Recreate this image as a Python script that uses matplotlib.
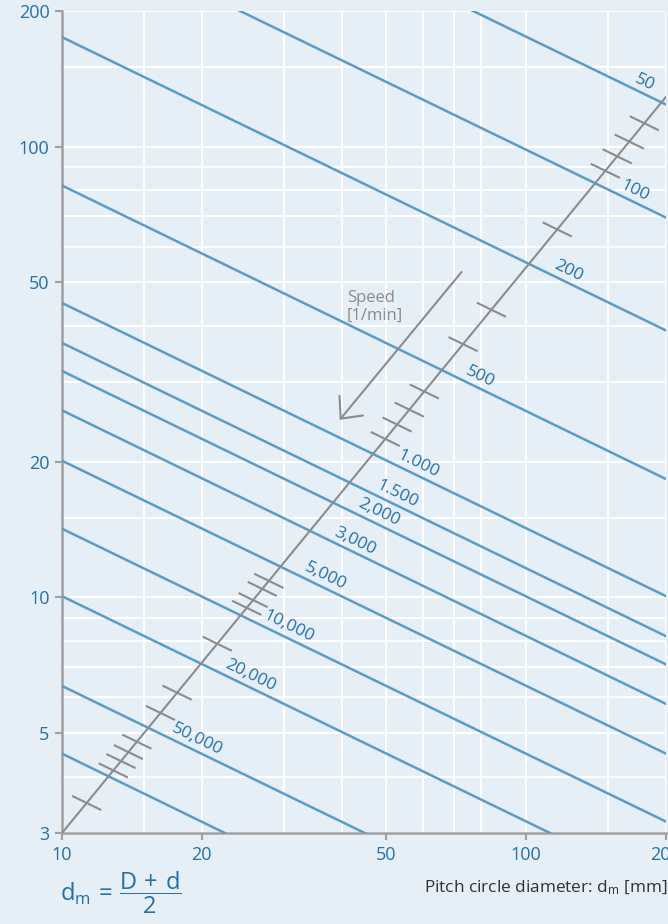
import numpy as np
import matplotlib.pyplot as plt
from matplotlib.patches import FancyArrowPatch
from matplotlib.ticker import FixedLocator, NullFormatter

plt.rcParams['font.family'] = ['Open Sans', 'DejaVu Sans']
plt.rcParams['mathtext.fontset'] = 'custom'
plt.rcParams['mathtext.rm'] = 'Open Sans'
plt.rcParams['mathtext.it'] = 'Open Sans:italic'
plt.rcParams['mathtext.bf'] = 'Open Sans:bold'

# speed lines, viscosity read at dm = 10 mm and at dm = 200 mm
speed_labels = ['50', '100', '200', '500', '1.000', '1.500', '2,000', '3,000',
                '5,000', '10,000', '20,000', '50,000', '']
y_at_10 = [554, 311, 175, 82, 45, 36.7, 31.8, 26.0, 20.1, 14.2, 10.06, 6.36, 4.5]
y_at_200 = [124, 69.6, 39.1, 18.3, 10.06, 8.2, 7.1, 5.8, 4.5, 3.18, 2.25, 1.42, 1.0]
label_x = [180, 171, 123, 79.6, 58.5, 52.7, 48.0, 42.8, 36.9, 30.7, 25.4, 19.5, None]

# gray speed scale and its intermediate ticks (dm positions)
scale_x = [10, 200]
scale_y = [3, 129]
scale_ticks = [179.6, 166.7, 157, 148, 116.6, 84.1, 73.1, 60.3, 56.0, 52.7, 49.7,
               27.9, 27.0, 25.8, 25.0, 21.6, 17.7, 16.3, 14.5, 13.9, 13.4, 12.9, 11.3]

x_ticks = [10, 20, 50, 100, 200]
y_ticks = [3, 5, 10, 20, 50, 100, 200]
x_grid = [15, 30, 40, 60, 70, 80, 150]
y_grid = [4, 6, 7, 8, 9, 15, 30, 40, 60, 70, 80, 90, 150]

bg = '#e6eef6'
line_blue = '#5b9bc8'
text_blue = '#2470aa'
gray = '#8c8c8c'

fig = plt.figure(figsize=(6.68, 9.24), dpi=100, facecolor=bg)
ax = fig.add_axes([62 / 668, 91 / 924, 604 / 668, 822 / 924])
ax.set_facecolor(bg)
ax.set_xscale('log')
ax.set_yscale('log')
ax.set_xlim(10, 200)
ax.set_ylim(3, 200)

ax.xaxis.set_major_locator(FixedLocator(x_ticks))
ax.yaxis.set_major_locator(FixedLocator(y_ticks))
ax.xaxis.set_minor_locator(FixedLocator(x_grid))
ax.yaxis.set_minor_locator(FixedLocator(y_grid))
ax.xaxis.set_minor_formatter(NullFormatter())
ax.yaxis.set_minor_formatter(NullFormatter())
ax.set_xticklabels([str(v) for v in x_ticks])
ax.set_yticklabels([str(v) for v in y_ticks])
ax.tick_params(which='major', length=5, width=1.5, color='#a0a0a0',
               labelcolor=text_blue, labelsize=13, pad=4)
ax.tick_params(which='minor', length=0)
ax.grid(which='both', color='white', lw=1.5)
ax.set_axisbelow(True)
for s in ['top', 'right']:
    ax.spines[s].set_visible(False)
for s in ['left', 'bottom']:
    ax.spines[s].set_color('#a0a0a0')
    ax.spines[s].set_linewidth(1.8)

# speed lines
for lab, y1, y2, lx in zip(speed_labels, y_at_10, y_at_200, label_x):
    ax.plot([10, 200], [y1, y2], color=line_blue, lw=1.8, zorder=3)
    if lx is None:
        continue
    k = np.log10(y2 / y1) / np.log10(20)
    ly = y1 * (lx / 10) ** k
    p1 = ax.transData.transform((10, y1))
    p2 = ax.transData.transform((200, y2))
    ang = np.degrees(np.arctan2(p2[1] - p1[1], p2[0] - p1[0]))
    ax.annotate(lab, (lx, ly), xytext=(0, 8.5), textcoords='offset points',
                ha='center', va='center', rotation=ang, rotation_mode='anchor',
                color=text_blue, fontsize=12.5, zorder=5)

# gray speed scale
ax.plot(scale_x, scale_y, color=gray, lw=1.5, zorder=4)
kk = np.log10(scale_y[1] / scale_y[0]) / np.log10(scale_x[1] / scale_x[0])
f = 1.07
for t in scale_ticks:
    yt = scale_y[0] * (t / scale_x[0]) ** kk
    ax.plot([t / f, t * f], [yt * f ** 0.5, yt / f ** 0.5], color=gray, lw=1.5, zorder=4)

# arrow + label
arr = FancyArrowPatch((73.2, 53.3), (39.3, 24.5),
                      arrowstyle='->,head_length=0.6,head_width=0.55',
                      mutation_scale=20, color=gray, lw=1.5, zorder=4)
ax.add_patch(arr)
ax.text(41.1, 48.0, 'Speed\n[1/min]', color=gray, fontsize=12,
        ha='left', va='top', linespacing=1.15, zorder=5)

# formula and axis label
fig.text(60 / 668, 31 / 924,
         r'$\mathrm{d}_\mathrm{m}\,=\,\dfrac{\mathrm{D}\,+\,\mathrm{d}}{2}$',
         color=text_blue, fontsize=17, ha='left', va='center')
fig.text(0.999, 36 / 924, r'Pitch circle diameter: d$_\mathrm{m}$ [mm]',
         color='#333333', fontsize=12.4, ha='right', va='center')

fig.savefig('out.png', dpi=100, facecolor=bg)
